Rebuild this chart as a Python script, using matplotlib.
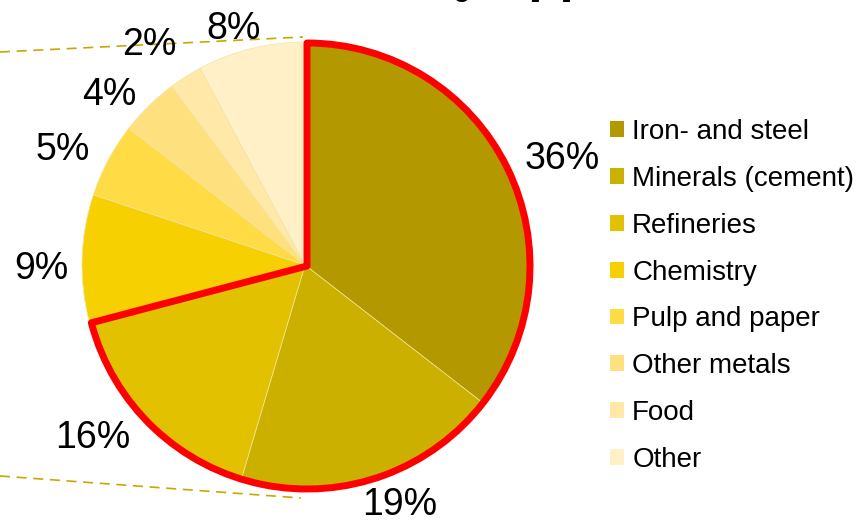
import matplotlib
matplotlib.use("Agg")
import matplotlib.pyplot as plt
from matplotlib.patches import Wedge, Patch
import numpy as np

categories = ["Iron- and steel", "Minerals (cement)", "Refineries", "Chemistry",
              "Pulp and paper", "Other metals", "Food", "Other"]
values = [35.5, 19.1, 16.3, 9.2, 5.4, 4.3, 2.4, 7.8]
pct_labels = ["36%", "19%", "16%", "9%", "5%", "4%", "2%", "8%"]
highlight_count = 3
title_text = "Industrial heating use [%]"

colors = ["#B39800", "#CCB000", "#E2C100", "#F6D000",
          "#FFDB45", "#FFE07E", "#FFE8A8", "#FFF0C8"]
label_radius = [1.255, 1.145, 1.22, 1.18, 1.21, 1.17, 1.22, 1.12]
label_dangle = [-3, 4, -5.5, 2, 2, 4, 2.5, 2.5]

plt.rcParams['font.family'] = ['Liberation Sans', 'DejaVu Sans']

W, H = 858, 520
fig = plt.figure(figsize=(W / 100, H / 100), dpi=100)
ax = fig.add_axes([0, 0, 1, 1])

cx, cy, R = 305, H - 265, 223
wedges, _ = ax.pie(values, colors=colors, startangle=90, counterclock=False,
                   center=(cx, cy), radius=R, frame=True, normalize=True,
                   wedgeprops=dict(edgecolor="#F2E4A0", linewidth=0.5))
ax.set_xlim(0, W)
ax.set_ylim(0, H)
ax.axis("off")

# percentage labels
fs = 27
cap_half = 0.358 * fs * 100 / 72
total = sum(values)
cum = 0
for v, lab, rr, da in zip(values, pct_labels, label_radius, label_dangle):
    mid = 90 - (cum + v / 2) / total * 360 + da
    cum += v
    x = cx + rr * R * np.cos(np.radians(mid))
    y = cy + rr * R * np.sin(np.radians(mid))
    ax.text(x, y - cap_half, lab, ha="center", va="baseline", fontsize=fs,
            color="black")

# red highlight outline around first slices
hl = sum(values[:highlight_count]) / total * 360
ax.add_patch(Wedge((cx + 2, cy - 1), R, 90 - hl, 90, fill=False,
                   edgecolor="#FF0000", linewidth=5, joinstyle="round"))

# dashed connector lines (from a neighbouring chart)
dash_col = "#C8A800"
ax.plot([0, cx - 2], [H - 52, cy + R + 5], ls=(0, (6, 4)), color=dash_col, lw=1.2)
ax.plot([0, cx - 4], [H - 476, cy - R - 10], ls=(0, (6, 4)), color=dash_col, lw=1.2)

# legend
handles = [Patch(facecolor=c, edgecolor="none") for c in colors]
leg = fig.legend(handles, categories, loc="center left",
                 bbox_to_anchor=(610 / W, 1 - 296 / H), frameon=False,
                 fontsize=20, handlelength=0.5, handleheight=0.5,
                 handletextpad=0.3, labelspacing=0.75, borderpad=0,
                 borderaxespad=0)

# clipped title at the top edge
fig.text(572 / W, 1 + 3.5 / H, title_text, ha="right", va="baseline",
         fontsize=19, fontweight="bold")

fig.savefig("out.png", dpi=100)
